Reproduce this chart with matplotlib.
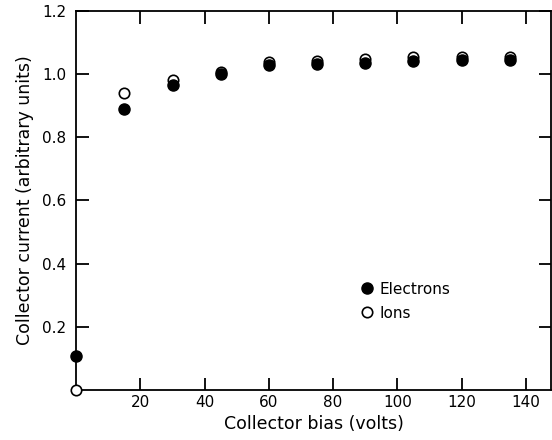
import matplotlib.pyplot as plt

# collector bias (volts)
bias = [0, 15, 30, 45, 60, 75, 90, 105, 120, 135]
electrons = [0.108, 0.891, 0.967, 0.999, 1.028, 1.031, 1.036, 1.043, 1.044, 1.044]
ions = [0.0, 0.941, 0.981, 1.008, 1.039, 1.043, 1.047, 1.053, 1.055, 1.055]

xticks = [20, 40, 60, 80, 100, 120, 140]
yticks = [0.2, 0.4, 0.6, 0.8, 1.0, 1.2]

plt.rcParams['font.family'] = ['DejaVu Sans']

fig = plt.figure(figsize=(5.52, 4.4), dpi=100)
ax = fig.add_axes([0.138, 0.114, 0.861, 0.861])

ax.plot(bias, electrons, 'o', color='black', markersize=8, clip_on=False, zorder=5, label='Electrons')
ax.plot(bias, ions, 'o', markerfacecolor='white', markeredgecolor='black', markeredgewidth=1.2,
        markersize=7.5, clip_on=False, zorder=4, label='Ions')

ax.set_xlim(0, 148)
ax.set_ylim(0, 1.2)
ax.set_xticks(xticks)
ax.set_xticklabels([str(t) for t in xticks])
ax.set_yticks(yticks)
ax.set_yticklabels(['%.1f' % t for t in yticks])
ax.tick_params(direction='in', length=9, width=1.3, top=True, right=True, labelsize=11)
ax.tick_params(axis='x', pad=4)
ax.tick_params(axis='y', pad=7)

for s in ax.spines.values():
    s.set_linewidth(1.3)

ax.set_xlabel('Collector bias (volts)', fontsize=12.5, labelpad=3)
ax.set_ylabel('Collector current (arbitrary units)', fontsize=12.5, labelpad=6)

ax.legend(loc='upper left', bbox_to_anchor=(0.567, 0.322), frameon=False, fontsize=11,
          handletextpad=0.3, labelspacing=0.6, handlelength=1.0)

fig.savefig('out.png', dpi=100)
